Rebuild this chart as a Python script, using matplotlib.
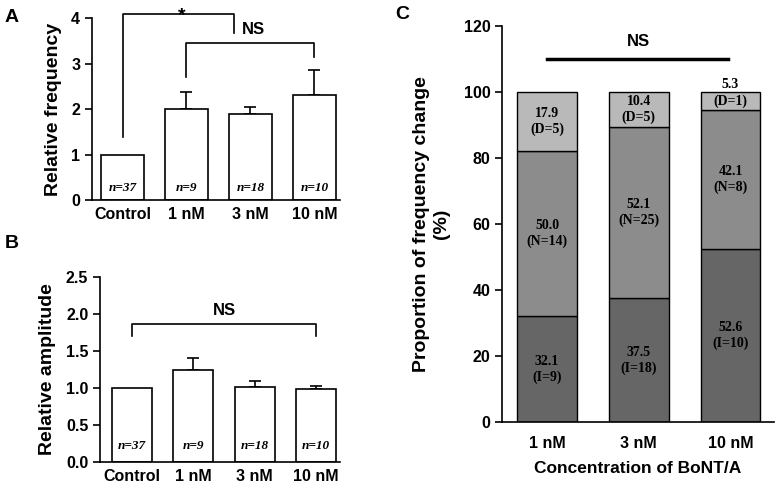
import matplotlib
matplotlib.use('Agg')
import matplotlib.pyplot as plt
import numpy as np

plt.rcParams['font.family'] = ['Liberation Sans', 'DejaVu Sans']
plt.rcParams['font.weight'] = 'bold'
plt.rcParams['axes.labelweight'] = 'bold'

# data
groups_ab = ['Control', '1 nM', '3 nM', '10 nM']
n_labels = ['n=37', 'n=9', 'n=18', 'n=10']
freq_mean = [1.0, 2.0, 1.9, 2.32]
freq_err = [0.0, 0.37, 0.15, 0.54]
amp_mean = [1.0, 1.25, 1.02, 0.98]
amp_err = [0.0, 0.15, 0.08, 0.05]

groups_c = ['1 nM', '3 nM', '10 nM']
inc_pct = [32.1, 37.5, 52.6]
nochg_pct = [50.0, 52.1, 42.1]
dec_pct = [17.9, 10.4, 5.3]
inc_n = [9, 18, 10]
nochg_n = [14, 25, 8]
dec_n = [5, 5, 1]

fig = plt.figure(figsize=(7.76, 4.88), dpi=100)
serif = ['Liberation Serif', 'DejaVu Serif']


def style_axis(ax):
    ax.spines['top'].set_visible(False)
    ax.spines['right'].set_visible(False)
    for s in ['left', 'bottom']:
        ax.spines[s].set_linewidth(1.2)
    ax.tick_params(axis='y', direction='out', length=5, width=1.2, labelsize=11.5)
    ax.tick_params(axis='x', length=0, labelsize=11.5, pad=5)


def bracket(ax, x1, x2, y1a, y_top, y2a, lw=1.2):
    ax.plot([x1, x1, x2, x2], [y1a, y_top, y_top, y2a], color='black', lw=lw, clip_on=False)


# ---- Panel A
axA = fig.add_axes([0.1186, 0.590, 0.3194, 0.373])
x = np.arange(len(groups_ab))
axA.bar(x, freq_mean, width=0.67, color='white', edgecolor='black', lw=1.2, zorder=2)
axA.errorbar(x[1:], freq_mean[1:], yerr=[np.zeros(3), freq_err[1:]], fmt='none',
             ecolor='black', elinewidth=1.2, capsize=4, capthick=1.2, zorder=1)
for i, t in enumerate(n_labels):
    axA.text(i, 0.27, t, ha='center', va='center', fontsize=9.5, style='italic',
             weight='bold', family=serif)
axA.set_xlim(-0.477, 3.40)
axA.set_ylim(0, 4)
axA.set_yticks([0, 1, 2, 3, 4])
axA.set_xticks(x)
axA.set_xticklabels(groups_ab)
axA.set_ylabel('Relative frequency', fontsize=14, labelpad=7)
style_axis(axA)
bracket(axA, 0, 1.74, 1.38, 4.09, 3.67)
# asterisk glyph sits high in its box, so anchor on the baseline
axA.text(0.93, 3.95, '*', ha='center', va='baseline', fontsize=14, clip_on=False)
bracket(axA, 1, 3, 2.7, 3.45, 3.14)
axA.text(2.05, 3.74, 'NS', ha='center', va='center', fontsize=12)
fig.text(0.006, 0.965, 'A', fontsize=14, weight='bold', va='center')

# ---- Panel B
axB = fig.add_axes([0.129, 0.0533, 0.309, 0.379])
axB.bar(x, amp_mean, width=0.65, color='white', edgecolor='black', lw=1.2, zorder=2)
axB.errorbar(x[1:], amp_mean[1:], yerr=[np.zeros(3), amp_err[1:]], fmt='none',
             ecolor='black', elinewidth=1.2, capsize=4, capthick=1.2, zorder=1)
for i, t in enumerate(n_labels):
    axB.text(i, 0.22, t, ha='center', va='center', fontsize=9.5, style='italic',
             weight='bold', family=serif)
axB.set_xlim(-0.52, 3.39)
axB.set_ylim(0, 2.5)
axB.set_yticks([0, 0.5, 1.0, 1.5, 2.0, 2.5])
axB.set_yticklabels(['0.0', '0.5', '1.0', '1.5', '2.0', '2.5'])
axB.set_xticks(x)
axB.set_xticklabels(groups_ab)
axB.set_ylabel('Relative amplitude', fontsize=14, labelpad=7)
style_axis(axB)
bracket(axB, 0, 3, 1.7, 1.87, 1.7)
axB.text(1.5, 2.05, 'NS', ha='center', va='center', fontsize=12)
fig.text(0.006, 0.50, 'B', fontsize=14, weight='bold', va='center')

# ---- Panel C
axC = fig.add_axes([0.647, 0.135, 0.35, 0.811])
xc = np.arange(len(groups_c))
c_inc, c_no, c_dec = '#666666', '#8c8c8c', '#b9b9b9'
axC.bar(xc, inc_pct, width=0.65, color=c_inc, edgecolor='black', lw=1.0)
axC.bar(xc, nochg_pct, width=0.65, bottom=inc_pct, color=c_no, edgecolor='black', lw=1.0)
bot2 = np.array(inc_pct) + np.array(nochg_pct)
axC.bar(xc, dec_pct, width=0.65, bottom=bot2, color=c_dec, edgecolor='black', lw=1.0)
lab_kw = dict(ha='center', va='center', fontsize=10, weight='bold', family=serif,
              linespacing=1.25)
for i in range(len(groups_c)):
    axC.text(i, inc_pct[i] / 2, f'{inc_pct[i]:.1f}\n(I={inc_n[i]})', **lab_kw)
    axC.text(i, inc_pct[i] + nochg_pct[i] / 2, f'{nochg_pct[i]:.1f}\n(N={nochg_n[i]})', **lab_kw)
    if dec_pct[i] > 8:
        axC.text(i, bot2[i] + dec_pct[i] / 2, f'{dec_pct[i]:.1f}\n(D={dec_n[i]})', **lab_kw)
    else:
        axC.text(i, 102.5, f'{dec_pct[i]:.1f}', **lab_kw)
        axC.text(i, bot2[i] + dec_pct[i] / 2, f'(D={dec_n[i]})', **lab_kw)
axC.set_xlim(-0.49, 2.47)
axC.set_ylim(0, 120)
axC.set_yticks(np.arange(0, 121, 20))
axC.set_xticks(xc)
axC.set_xticklabels(groups_c)
axC.set_ylabel('Proportion of frequency change\n(%)', fontsize=14, labelpad=10)
axC.set_xlabel('Concentration of BoNT/A', fontsize=12.5, labelpad=7)
style_axis(axC)
axC.tick_params(axis='x', pad=10)
axC.plot([0.0, 1.97], [110, 110], color='black', lw=2.5)
axC.text(1.0, 115.5, 'NS', ha='center', va='center', fontsize=12)
fig.text(0.509, 0.97, 'C', fontsize=14, weight='bold', va='center')

plt.savefig('out.png', dpi=100)
plt.close()
